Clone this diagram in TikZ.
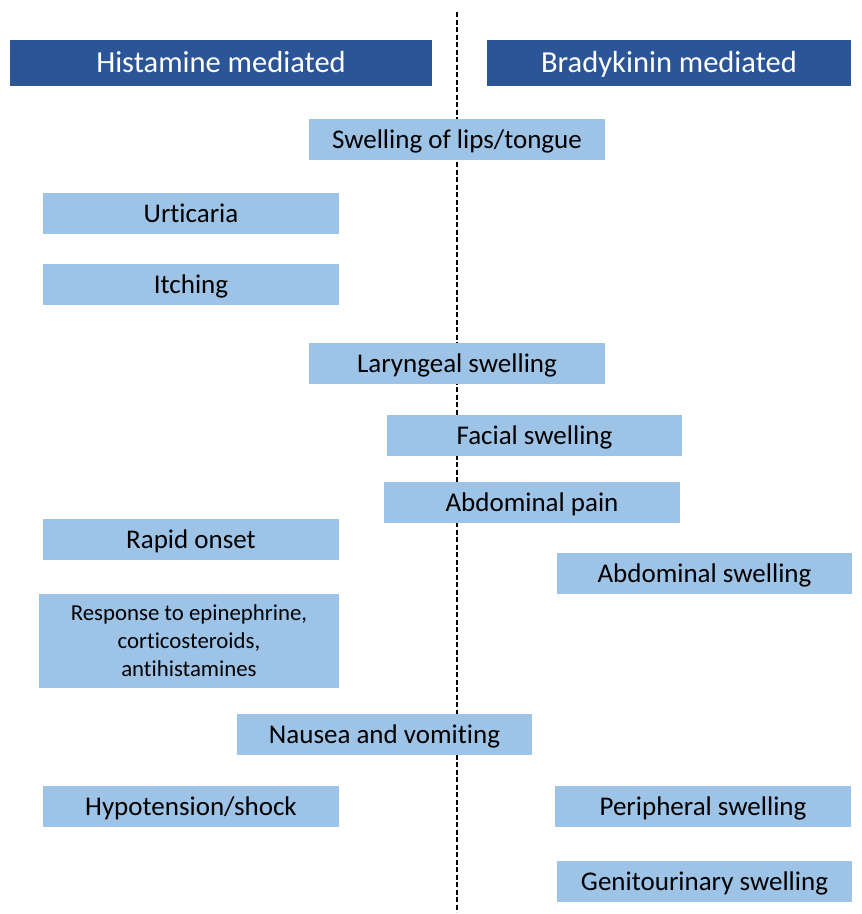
\documentclass[tikz,border=0pt]{standalone}
\usepackage{fontspec}
\setmainfont{Carlito}[Ligatures={NoCommon}]
\definecolor{hdr}{HTML}{2B5597}
\definecolor{lbox}{HTML}{9DC3E6}
\begin{document}
\begin{tikzpicture}[x=1pt,y=-1pt,
  hbox/.style={fill=hdr,text=white,inner sep=0pt,text height=21pt,text depth=1.6pt,font=\fontsize{30.5}{34}\selectfont},
  sbox/.style={fill=lbox,text=black,inner sep=0pt,minimum width=296pt,minimum height=41pt,text height=20pt,text depth=2.4pt,font=\fontsize{27}{31}\selectfont},
  divline/.style={dash pattern=on 5pt off 2.5pt,line width=1.8pt,black}]
\useasboundingbox (0,0) rectangle (862,914);
\coordinate (top) at (457,12);
\coordinate (bot) at (457,912);
\draw[divline] (top) -- (bot);
\node[hbox,minimum width=422pt,minimum height=46pt] (hl) at (221,63) {Histamine mediated};
\node[hbox,minimum width=364pt,minimum height=46pt] (hr) at (669,63) {Bradykinin mediated};
\node[sbox] (lips) at (457,139.5) {Swelling of lips/tongue};
\node[sbox] (urt) at (191,213.5) {Urticaria};
\node[sbox] (itch) at (191,284.5) {Itching};
\node[sbox] (lar) at (457,363.5) {Laryngeal swelling};
\node[sbox,minimum width=295pt] (fac) at (534.5,435.5) {Facial swelling};
\node[sbox] (abdp) at (532,502.5) {Abdominal pain};
\node[sbox] (rapid) at (191,539.5) {Rapid onset};
\node[sbox,minimum width=295pt] (abds) at (704.5,573.5) {Abdominal swelling};
\node[sbox,minimum width=300pt,minimum height=94pt,align=center,text height=,text depth=,font=\fontsize{22.8}{28}\selectfont] (resp) at (189,641) {Response to epinephrine,\\corticosteroids,\\antihistamines};
\node[sbox,minimum width=295pt] (naus) at (384.5,734.5) {Nausea and vomiting};
\node[sbox] (hypo) at (191,806.5) {Hypotension/shock};
\node[sbox] (peri) at (703,806.5) {Peripheral swelling};
\node[sbox,minimum width=295pt] (geni) at (704.5,881.5) {Genitourinary swelling};
\end{tikzpicture}
\end{document}
